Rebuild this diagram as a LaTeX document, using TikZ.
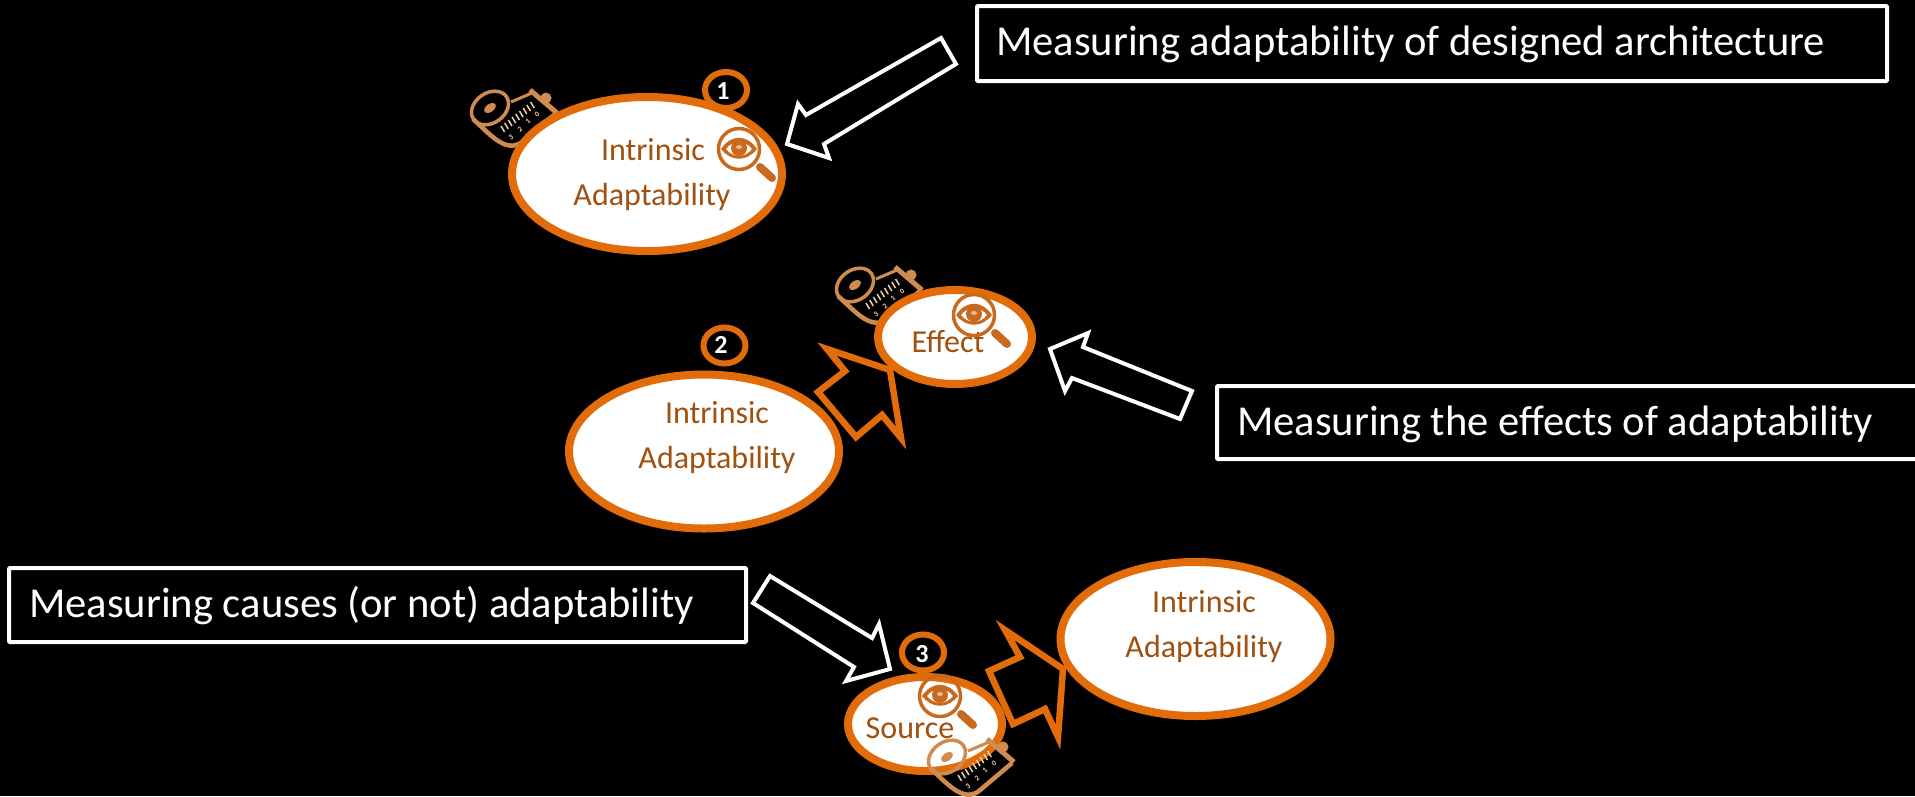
\documentclass[tikz,border=0pt]{standalone}
\usepackage{fontspec}
\setmainfont{Carlito}
\usetikzlibrary{shapes.geometric}
\definecolor{ora}{HTML}{E36C0A}
\definecolor{txtbrown}{HTML}{A0500F}
\definecolor{icon}{HTML}{D08C50}
\definecolor{lens}{HTML}{C8691E}
\definecolor{tick}{HTML}{EBCFAE}
\newcommand{\fs}[1]{\fontsize{#1}{#1}\selectfont}
\tikzset{
  x=1pt,y=-1pt,
  bigell/.style={ellipse,draw=ora,fill=white,line width=8pt,inner sep=0pt,outer sep=0pt,minimum width=270pt,minimum height=154pt},
  smallell/.style={ellipse,draw=ora,fill=white,line width=8pt,inner sep=0pt,outer sep=0pt,minimum width=154pt,minimum height=94pt},
  badge/.style={ellipse,draw=ora,line width=6pt,inner sep=0pt,outer sep=0pt,minimum width=42pt,minimum height=36pt},
  digit/.style={text=white,font=\fs{26}\bfseries},
  label/.style={text=txtbrown,font=\fs{32},anchor=base,inner sep=0pt},
  boxrect/.style={draw=white,line width=4pt,rounded corners=1pt},
  boxtext/.style={text=white,font=\fs{42.6},anchor=base west,inner sep=0pt},
  wharrow/.style={draw=white,line width=4pt,miter limit=12,line join=miter},
  orarrow/.style={draw=ora,line width=6.5pt,miter limit=12,line join=miter},
  eyepic/.pic={
    \draw[lens,line width=3.5pt] (0,0) circle[radius=20.5];
    \draw[lens,line width=8pt,line cap=round] (21,18) -- (33,29);
    \fill[lens,even odd rule] (-18,0) .. controls (-8,-15) and (8,-15) .. (18,0)
       .. controls (8,13) and (-8,13) .. (-18,0)
       (-13,0) .. controls (-7,-9) and (7,-9) .. (13,0)
       .. controls (7,9) and (-7,9) .. (-13,0);
    \fill[lens] (0,-1) circle[radius=8];
    \fill[icon!60!white] (0,-2) ellipse[x radius=3,y radius=2];
  },
  tapepic/.pic={
    \draw[icon,line width=3.5pt,rotate=35] (0,0) ellipse[x radius=20,y radius=15];
    \fill[icon,rotate=35] (0,0) ellipse[x radius=6.5,y radius=4];
    \draw[icon,line width=5pt] (40,-18) -- (67,5);
    \fill[icon] (56,-10) circle[radius=5.5];
    \draw[icon,line width=3pt] (21,-6) -- (42,-15);
    \draw[icon,line width=4.5pt,line join=round] (-17,11) -- (-3,24) .. controls (8,34) and (20,43) .. (32,34) -- (65,6);
    \foreach \i in {0,...,8}{
      \draw[tick,line width=1.5pt] ({11+\i*3.7},{18-\i*3}) -- ++(3.6,6);
    }
    \foreach \tx/\ty/\n in {21/29/3,30/21/2,38/13/1,47/6/0}{
      \node[text=tick,font=\fs{7.5}\bfseries,inner sep=0pt,rotate=40] at (\tx,\ty) {\n};
    }
  }
}
\begin{document}
\begin{tikzpicture}
\useasboundingbox (0,0) rectangle (1915,796);
\clip (0,0) rectangle (1915,796);
\fill[black] (0,0) rectangle (1915,796);

% text boxes
\draw[boxrect] (977,6) rectangle (1887,81);
\node[boxtext] (t1) at (996,55) {Measuring adaptability of designed architecture};
\draw[boxrect] (1217,386) rectangle (1935,459);
\node[boxtext] (t2) at (1237,435) {Measuring the effects of adaptability};
\draw[boxrect] (9,568) rectangle (746,642);
\node[boxtext] (t3) at (29,617) {Measuring causes (or not) adaptability};

% block arrows
\draw[wharrow] (787,144) -- (798,104) -- (806,115) -- (941,38) -- (956,64) -- (824,144) -- (829,158) -- cycle;
\draw[wharrow] (1050,349) -- (1088,333) -- (1083,347) -- (1192,391) -- (1180,419) -- (1072,378) -- (1065,391) -- cycle;
\draw[wharrow] (890,669) -- (879,624) -- (872,638) -- (770,576) -- (753,603) -- (854,667) -- (846,681) -- cycle;
\draw[orarrow] (890,370) -- (827,349) -- (845,371) -- (818,392) -- (856,437) -- (882,415) -- (901,438) -- cycle;
\draw[orarrow] (1063,669) -- (1005,630) -- (1020,657) -- (989,671) -- (1013,724) -- (1045,709) -- (1058,737) -- cycle;

% scenario 1
\pic at (490,108) {tapepic};
\node[bigell] (e1) at (647,174) {};
\node[badge] (b1) at (726,90) {};
\node[digit] (d1) at (723,91) {1};
\node[label] (l1a) at (653,160) {Intrinsic};
\node[label] (l1b) at (652,205) {Adaptability};
\pic at (739,149) {eyepic};

% scenario 2
\pic at (855,285) {tapepic};
\node[bigell] (e2) at (704,451.5) {};
\node[smallell] (s2) at (955,337) {};
\node[badge] (b2) at (724.5,345.5) {};
\node[digit] (d2) at (721,345) {2};
\node[label] (l2a) at (717,423) {Intrinsic};
\node[label] (l2b) at (717,468) {Adaptability};
\node[label] (l2c) at (948,352) {Effect};
\pic at (974,315) {eyepic};

% scenario 3
\node[bigell] (e3) at (1195.5,639) {};
\node[smallell] (s3) at (925,724) {};
\node[badge] (b3) at (923,652.5) {};
\node[digit] (d3) at (922,654) {3};
\node[label] (l3a) at (1204,612) {Intrinsic};
\node[label] (l3b) at (1204,657) {Adaptability};
\node[label] (l3c) at (910,738) {Source};
\pic at (940,696) {eyepic};
\pic at (947,757) {tapepic};
\end{tikzpicture}
\end{document}
